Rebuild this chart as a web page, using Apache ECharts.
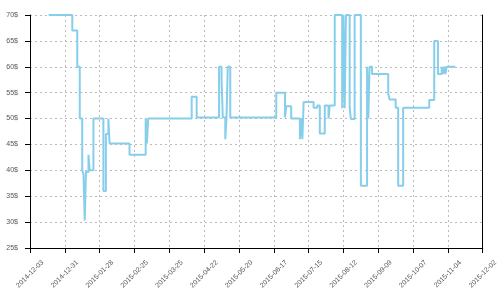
<!DOCTYPE html>
<html>
<head>
<meta charset="utf-8">
<script src="https://cdn.jsdelivr.net/npm/echarts@6/dist/echarts.min.js"></script>
<style>
	html, body { margin:0; padding:0; background:#fff; }
	#priceCharts { width:500px; height:300px; }
</style>
</head>
<body>
<div id="priceCharts"></div>
<script>
	// x axis: first / last date, one tick every 4 weeks
	var startDate = '2014-12-03';
	var endDate = '2015-12-02';
	var tickDays = 28;

	// y axis range ($)
	var yMin = 25;
	var yMax = 70;
	var yStep = 5;

	// price history, each price holds until the next date
	var priceDates = [
		'2014-12-18','2015-01-06','2015-01-10','2015-01-12','2015-01-14','2015-01-15','2015-01-16','2015-01-17',
		'2015-01-19','2015-01-20','2015-01-23','2015-01-31','2015-02-02','2015-02-04','2015-02-05','2015-02-21',
		'2015-03-06','2015-03-07','2015-03-08','2015-04-12','2015-04-16','2015-05-04','2015-05-06','2015-05-07',
		'2015-05-09','2015-05-10','2015-05-11','2015-05-13','2015-06-19','2015-06-26','2015-06-27','2015-07-01',
		'2015-07-08','2015-07-09','2015-07-10','2015-07-11','2015-07-19','2015-07-22','2015-07-24','2015-07-28',
		'2015-07-31','2015-08-01','2015-08-05','2015-08-11','2015-08-12','2015-08-13','2015-08-14','2015-08-17',
		'2015-08-18','2015-08-21','2015-08-26','2015-08-31','2015-09-01','2015-09-02','2015-09-04','2015-09-17',
		'2015-09-18','2015-09-23','2015-09-25','2015-09-29','2015-10-20','2015-10-24','2015-10-27','2015-10-30',
		'2015-10-31','2015-11-01','2015-11-02','2015-11-03','2015-11-10'
	];
	var priceValues = [
		70, 67, 60, 50, 40, 39.3, 30.3, 39.7,
		43, 40, 50, 36, 47, 50, 45.2, 43,
		50, 45.2, 50, 54.2, 50.2, 60, 57.7, 50.2,
		46, 50.2, 60, 50.2, 55, 50.2, 52.4, 50,
		46, 50, 46, 53.2, 52.1, 52.5, 47.1, 52.5,
		50, 52.5, 70, 52, 70, 52, 70, 52.1,
		49.9, 70, 37, 60, 50, 60, 58.6, 54.9,
		53.7, 52.1, 37, 52.1, 53.6, 65, 58.6, 60,
		58.6, 60, 58.6, 60, 60
	];

	var DAY = 86400000;
	var startTime = Date.parse(startDate);

	function toDay(s){
		return Math.round((Date.parse(s) - startTime) / DAY);
	}

	function dayLabel(d){
		return new Date(startTime + d * DAY).toISOString().slice(0, 10);
	}

	function initPriceCharts(){
		var data = priceDates.map(function(d, i){
			return [toDay(d), priceValues[i]];
		});
		var labelStyle = {
			fontFamily: 'Liberation Sans, Arial, sans-serif',
			fontSize: 7,
			color: '#555'
		};
		var splitStyle = {
			show: true,
			lineStyle: { color: '#bbb', width: 1, type: [2, 3] }
		};
		var option = {
			animation: false,
			grid: {
				left: 30,
				right: 15,
				top: 15,
				bottom: 52
			},
			xAxis: {
				type: 'value',
				min: 0,
				max: toDay(endDate),
				interval: tickDays,
				axisLine: { lineStyle: { color: '#000', width: 1 } },
				axisTick: { show: true, length: 5, lineStyle: { color: '#000' } },
				axisLabel: {
					rotate: 45,
					align: 'center',
					verticalAlign: 'middle',
					margin: 26,
					fontFamily: labelStyle.fontFamily,
					fontSize: labelStyle.fontSize,
					color: labelStyle.color,
					formatter: function(v){ return dayLabel(v); }
				},
				splitLine: splitStyle
			},
			yAxis: [
				{
					type: 'value',
					min: yMin,
					max: yMax,
					interval: yStep,
					axisLine: { show: true, lineStyle: { color: '#000', width: 1 } },
					axisTick: { show: true, length: 5, lineStyle: { color: '#000' } },
					axisLabel: {
						margin: 12,
						fontFamily: labelStyle.fontFamily,
						fontSize: labelStyle.fontSize,
						color: labelStyle.color,
						formatter: '{value}$'
					},
					splitLine: splitStyle
				},
				{
					type: 'value',
					position: 'right',
					min: yMin,
					max: yMax,
					interval: yStep,
					axisLine: { show: true, lineStyle: { color: '#000', width: 1 } },
					axisTick: { show: false },
					axisLabel: { show: false },
					splitLine: { show: false }
				}
			],
			series: [
				{
					type: 'line',
					step: 'end',
					showSymbol: false,
					data: data,
					lineStyle: { color: '#87CEEB', width: 2 }
				}
			]
		};
		echarts.init(document.getElementById('priceCharts')).setOption(option);
	}

	initPriceCharts();
</script>
</body>
</html>
